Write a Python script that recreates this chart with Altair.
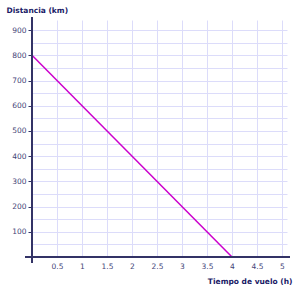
import altair as alt
import pandas as pd

# Data
tiempo = [0, 4]          # h
distancia = [800, 0]     # km
x_ticks = [0.5, 1, 1.5, 2, 2.5, 3, 3.5, 4, 4.5, 5]
y_grid = list(range(50, 901, 50))

df = pd.DataFrame({"t": tiempo, "d": distancia})

AXIS_COL = "#333366"
LABEL_COL = "#444477"
TITLE_COL = "#1a1a66"
GRID_COL = "#dcdcfa"
FONT = "DejaVu Sans"

x_enc = alt.X(
    "t:Q",
    scale=alt.Scale(domain=[0, 5.1], nice=False, zero=False),
    axis=alt.Axis(
        values=x_ticks,
        format="~g",
        grid=True,
        gridColor=GRID_COL,
        gridWidth=1,
        domain=False,
        ticks=False,
        labelPadding=5,
        labelFont=FONT,
        labelFontSize=7.5,
        labelColor=LABEL_COL,
        title="Tiempo de vuelo (h)",
        titleFont=FONT,
        titleFontSize=7.5,
        titleFontWeight="bold",
        titleColor=TITLE_COL,
        titleX=260,
        titleY=26,
        titleAlign="right",
        titleBaseline="alphabetic",
        titleAnchor="end",
    ),
)

y_enc = alt.Y(
    "d:Q",
    scale=alt.Scale(domain=[0, 940], nice=False),
    axis=alt.Axis(
        values=y_grid,
        format="d",
        labelExpr="datum.value % 100 === 0 ? datum.label : ''",
        grid=True,
        gridColor=GRID_COL,
        gridWidth=1,
        domain=False,
        ticks=True,
        tickSize=4,
        tickColor=AXIS_COL,
        tickWidth=1,
        tickOpacity={"condition": {"test": "datum.value % 100 === 0", "value": 1}, "value": 0},
        labelPadding=2,
        labelFont=FONT,
        labelFontSize=7.5,
        labelColor=LABEL_COL,
        title="Distancia (km)",
        titleFont=FONT,
        titleFontSize=7.5,
        titleFontWeight="bold",
        titleColor=TITLE_COL,
        titleAngle=0,
        titleX=-26,
        titleY=-8,
        titleAlign="left",
        titleBaseline="alphabetic",
    ),
)

line = alt.Chart(df).mark_line(color="#cc00cc", strokeWidth=1.5, clip=False).encode(
    x=x_enc, y=y_enc
)

one = alt.Data(values=[{}])
y_axis_line = alt.Chart(one).mark_rule(color=AXIS_COL, strokeWidth=2).encode(
    x=alt.value(0), y=alt.value(-3), y2=alt.value(243)
)
x_axis_line = alt.Chart(one).mark_rule(color=AXIS_COL, strokeWidth=2).encode(
    x=alt.value(-7), x2=alt.value(258), y=alt.value(237)
)

chart = alt.layer(line, y_axis_line, x_axis_line).properties(
    width=255,
    height=237,
    autosize="none",
    padding={"left": 32, "top": 20, "right": 13, "bottom": 34},
    background="white",
).configure_view(stroke=None)

chart.save("out.html", embed_options={"renderer": "svg", "actions": False})
